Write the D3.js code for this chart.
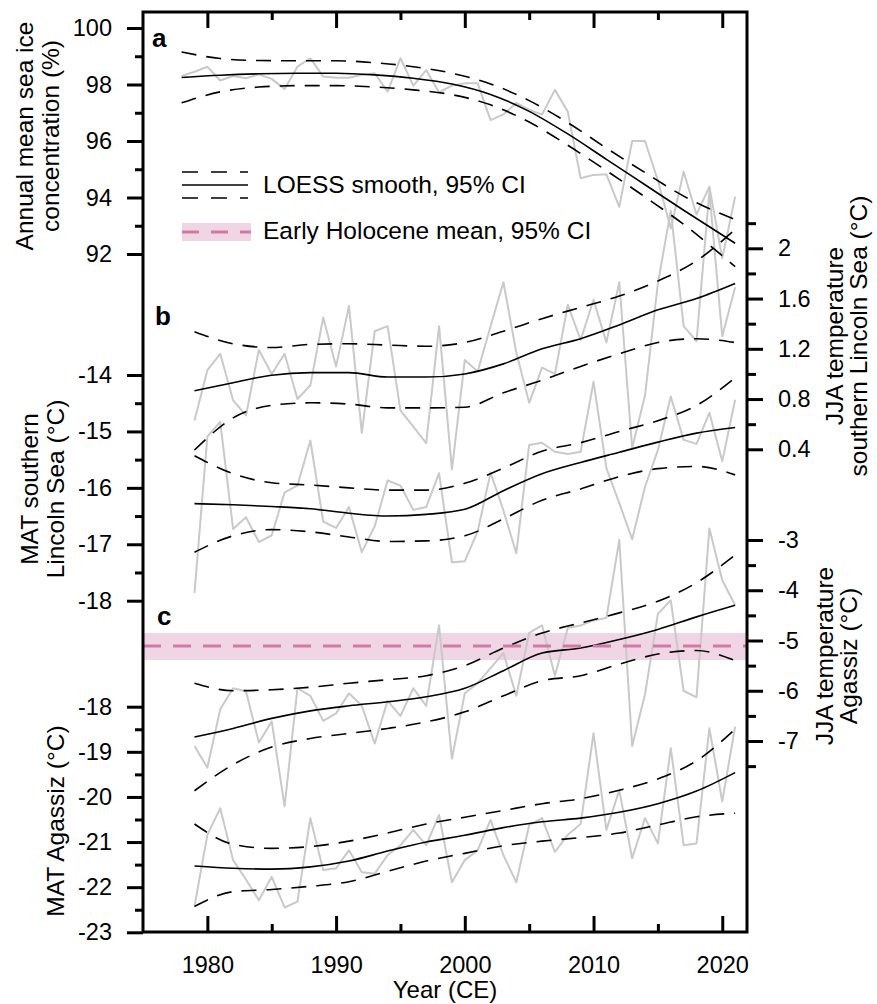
<!DOCTYPE html>
<html><head><meta charset="utf-8">
<script src="https://cdn.jsdelivr.net/npm/d3@7"></script>
<style>
body{margin:0;background:#fff;}
text{font-family:"Liberation Sans",Arial,Helvetica,sans-serif;fill:#000;}
</style></head>
<body><svg id="c" width="877" height="1004"></svg>
<script>
// ---------- DATA ----------
const yearsA = d3.range(1978, 2022);           // sea ice years
const yearsBC = d3.range(1979, 2022);          // temperature years
const seaIce = [98.30,98.45,98.63,98.14,98.30,98.22,98.36,98.20,97.84,98.63,98.93,98.28,98.24,98.24,98.34,98.40,97.75,98.93,97.96,98.51,97.72,97.96,98.04,98.04,96.74,96.94,97.35,97.10,96.94,97.81,97.04,94.68,94.80,94.82,93.67,96.00,96.00,94.60,92.90,94.91,93.40,94.38,91.85,94.03];
const jjaLincoln = [0.63,1.03,1.16,0.79,0.67,1.19,1.00,1.16,0.80,0.91,1.45,1.06,1.54,0.53,1.34,1.38,0.71,0.58,0.45,1.38,0.24,1.11,1.02,1.38,1.73,1.17,0.77,1.05,1.00,1.55,1.27,1.59,1.25,1.73,0.41,0.83,1.72,2.30,1.38,1.26,2.45,1.30,1.69];
const matLincoln = [-17.86,-15.09,-14.83,-16.73,-16.52,-16.96,-16.84,-16.08,-15.96,-15.16,-16.60,-16.71,-16.34,-17.14,-16.68,-15.87,-15.96,-16.39,-16.34,-15.74,-17.32,-17.30,-16.77,-15.73,-16.40,-17.16,-15.24,-15.20,-15.36,-15.40,-15.36,-14.12,-15.65,-16.27,-16.91,-15.98,-15.33,-14.38,-15.15,-15.22,-14.67,-15.53,-14.44];
const jjaAgassiz = [-7.10,-7.53,-6.37,-5.95,-6.01,-7.03,-6.61,-8.30,-5.95,-6.10,-6.60,-6.45,-6.05,-6.30,-7.05,-6.20,-6.50,-5.95,-6.30,-4.70,-7.35,-6.05,-5.85,-5.55,-5.25,-6.10,-4.85,-4.70,-5.70,-4.75,-4.70,-4.60,-4.55,-3.00,-7.10,-6.07,-4.47,-4.20,-6.00,-6.13,-2.77,-3.80,-4.30];
const matAgassiz = [-22.42,-20.84,-20.25,-21.40,-21.83,-22.29,-21.77,-22.45,-22.32,-20.47,-21.62,-21.58,-21.18,-21.67,-21.70,-21.29,-21.07,-20.73,-21.07,-20.40,-21.89,-21.40,-21.18,-20.51,-21.29,-21.89,-20.62,-20.47,-21.22,-20.84,-20.60,-18.59,-20.73,-19.85,-21.36,-20.47,-21.03,-18.92,-21.07,-21.03,-18.48,-20.10,-18.44];

// LOESS smooth and 95% CI, read at knot years
const knotsA = [1978,1981,1984,1987,1990,1993,1996,1999,2002,2005,2008,2011,2014,2017,2021];
const seaIceFit = [98.25,98.33,98.38,98.40,98.40,98.34,98.22,98.02,97.65,97.05,96.25,95.35,94.45,93.55,92.38];
const seaIceHi  = [99.15,98.92,98.85,98.84,98.84,98.77,98.63,98.40,98.02,97.43,96.65,95.75,94.88,94.05,93.22];
const seaIceLo  = [97.35,97.74,97.91,97.96,97.96,97.91,97.81,97.64,97.28,96.67,95.85,94.95,94.02,93.05,91.55];

const knotsBC = [1979,1982,1985,1988,1991,1994,1997,2000,2003,2006,2009,2012,2015,2018,2021];
const jjaLincolnFit = [0.866,0.93,0.99,1.01,1.01,0.975,0.975,1.00,1.08,1.20,1.28,1.39,1.51,1.60,1.72];
const jjaLincolnHi  = [1.336,1.24,1.21,1.235,1.24,1.23,1.22,1.25,1.34,1.44,1.53,1.62,1.74,1.90,2.15];
const jjaLincolnLo  = [0.394,0.65,0.75,0.77,0.76,0.73,0.73,0.735,0.85,0.95,1.06,1.16,1.25,1.28,1.25];
const matLincolnFit = [-16.28,-16.30,-16.33,-16.37,-16.45,-16.50,-16.47,-16.38,-16.05,-15.75,-15.55,-15.37,-15.19,-15.03,-14.93];
const matLincolnHi  = [-15.43,-15.75,-15.91,-15.95,-16.00,-16.04,-16.04,-15.92,-15.65,-15.35,-15.20,-15.00,-14.81,-14.54,-14.05];
const matLincolnLo  = [-17.14,-16.85,-16.74,-16.78,-16.87,-16.95,-16.94,-16.85,-16.55,-16.22,-16.02,-15.80,-15.66,-15.62,-15.77];
const jjaAgassizFit = [-6.92,-6.75,-6.55,-6.40,-6.30,-6.22,-6.12,-5.95,-5.60,-5.25,-5.15,-4.98,-4.78,-4.53,-4.30];
const jjaAgassizHi  = [-5.85,-6.00,-5.98,-5.93,-5.85,-5.78,-5.70,-5.50,-5.15,-4.85,-4.65,-4.45,-4.22,-3.85,-3.30];
const jjaAgassizLo  = [-7.99,-7.47,-7.12,-6.95,-6.85,-6.75,-6.62,-6.42,-6.10,-5.80,-5.70,-5.47,-5.27,-5.20,-5.40];
const matAgassizFit = [-21.53,-21.58,-21.60,-21.55,-21.42,-21.20,-21.00,-20.85,-20.68,-20.55,-20.47,-20.34,-20.15,-19.87,-19.46];
const matAgassizHi  = [-20.60,-21.05,-21.14,-21.10,-20.98,-20.80,-20.60,-20.45,-20.30,-20.15,-20.04,-19.85,-19.60,-19.20,-18.50];
const matAgassizLo  = [-22.43,-22.10,-22.05,-21.98,-21.88,-21.65,-21.42,-21.25,-21.08,-20.98,-20.90,-20.80,-20.62,-20.44,-20.36];

// Early Holocene mean JJA Agassiz with 95% CI
const ehMean = -5.11, ehHi = -4.85, ehLo = -5.39;

// tick values
const xMajor = [1980,1990,2000,2010,2020], xMinor = [1985,1995,2005,2015];
const aMajor = [92,94,96,98,100], aMinor = [93,95,97,99];
const bLMajor = [-18,-17,-16,-15,-14], bLMinor = [-17.5,-16.5,-15.5,-14.5];
const bRMajor = [0.4,0.8,1.2,1.6,2], bRMinor = [0.6,1.0,1.4,1.8,2.2];
const cLMajor = [-23,-22,-21,-20,-19,-18], cLMinor = [-22.5,-21.5,-20.5,-19.5,-18.5];
const cRMajor = [-7,-6,-5,-4,-3], cRMinor = [-7.5,-6.5,-5.5,-4.5,-3.5];

// ---------- DRAW ----------
const svg = d3.select("#c");
svg.append("rect").attr("width",877).attr("height",1004).attr("fill","#fff");

const L=143, R=747, T=12, B=932;
const x = d3.scaleLinear().domain([1975,2022]).range([143,748]);
const yA  = d3.scaleLinear().domain([92,100]).range([254,28]);
const yBL = d3.scaleLinear().domain([-18,-14]).range([600.7,375]);
const yBR = d3.scaleLinear().domain([0.4,2]).range([449.3,248.3]);
const yCL = d3.scaleLinear().domain([-23,-18]).range([932.3,706.7]);
const yCR = d3.scaleLinear().domain([-7,-3]).range([741,540]);

// pink band
svg.append("rect").attr("x",L).attr("width",R-L)
  .attr("y",yCR(ehHi)).attr("height",yCR(ehLo)-yCR(ehHi)).attr("fill","#f0d5e4");

const GRAY="#c9c9c9";
function raw(years, vals, y){
  svg.append("path").datum(years.map((d,i)=>[d,vals[i]]))
    .attr("d", d3.line().x(d=>x(d[0])).y(d=>y(d[1])))
    .attr("fill","none").attr("stroke",GRAY).attr("stroke-width",2).attr("stroke-linejoin","round");
}
function smooth(years, vals, y, dashed){
  svg.append("path").datum(years.map((d,i)=>[d,vals[i]]))
    .attr("d", d3.line().curve(d3.curveMonotoneX).x(d=>x(d[0])).y(d=>y(d[1])))
    .attr("fill","none").attr("stroke","#000").attr("stroke-width",1.6)
    .attr("stroke-dasharray", dashed ? "15,10" : null);
}
raw(yearsA, seaIce, yA);
raw(yearsBC, jjaLincoln, yBR);
raw(yearsBC, matLincoln, yBL);
raw(yearsBC, jjaAgassiz, yCR);
raw(yearsBC, matAgassiz, yCL);

[[knotsA,seaIceFit,seaIceHi,seaIceLo,yA],
 [knotsBC,jjaLincolnFit,jjaLincolnHi,jjaLincolnLo,yBR],
 [knotsBC,matLincolnFit,matLincolnHi,matLincolnLo,yBL],
 [knotsBC,jjaAgassizFit,jjaAgassizHi,jjaAgassizLo,yCR],
 [knotsBC,matAgassizFit,matAgassizHi,matAgassizLo,yCL]].forEach(s=>{
  smooth(s[0],s[1],s[4],false);
  smooth(s[0],s[2],s[4],true);
  smooth(s[0],s[3],s[4],true);
});

// Early Holocene mean line
svg.append("line").attr("x1",L).attr("x2",R).attr("y1",yCR(ehMean)).attr("y2",yCR(ehMean))
  .attr("stroke","#d27aa6").attr("stroke-width",3).attr("stroke-dasharray","18,12");

// box
svg.append("rect").attr("x",L).attr("y",T).attr("width",R-L).attr("height",B-T)
  .attr("fill","none").attr("stroke","#000").attr("stroke-width",3);

// axes
function style(g, fs){
  g.select(".domain").remove();
  g.selectAll(".tick line").attr("stroke","#000").attr("stroke-width",3);
  g.selectAll("text").attr("font-size",fs).attr("font-family",'"Liberation Sans",Arial,sans-serif').attr("fill","#000");
  g.attr("font-size",null).attr("font-family",null);
}
const FS = 23.5;
svg.append("g").attr("transform",`translate(0,${B})`)
  .call(d3.axisBottom(x).tickValues(xMajor).tickSize(-16).tickPadding(24).tickFormat(d3.format("d")))
  .call(g=>style(g,FS));
svg.append("g").attr("transform",`translate(0,${B})`)
  .call(d3.axisBottom(x).tickValues(xMinor).tickSize(-8).tickFormat("")).call(g=>style(g,FS));
svg.append("g").attr("transform",`translate(0,${T})`)
  .call(d3.axisTop(x).tickValues(xMajor).tickSize(-16).tickFormat("")).call(g=>style(g,FS));
svg.append("g").attr("transform",`translate(0,${T})`)
  .call(d3.axisTop(x).tickValues(xMinor).tickSize(-8).tickFormat("")).call(g=>style(g,FS));

function leftAxis(y, major, minor){
  svg.append("g").attr("transform",`translate(${L},0)`)
    .call(d3.axisLeft(y).tickValues(major).tickSize(16).tickPadding(15).tickFormat(d=>String(d)))
    .call(g=>style(g,FS));
  svg.append("g").attr("transform",`translate(${L},0)`)
    .call(d3.axisLeft(y).tickValues(minor).tickSize(8).tickFormat("")).call(g=>style(g,FS));
}
function rightAxis(y, major, minor){
  svg.append("g").attr("transform",`translate(${R},0)`)
    .call(d3.axisRight(y).tickValues(major).tickSize(16).tickPadding(15).tickFormat(d=>String(d)))
    .call(g=>style(g,FS));
  svg.append("g").attr("transform",`translate(${R},0)`)
    .call(d3.axisRight(y).tickValues(minor).tickSize(9).tickFormat("")).call(g=>style(g,FS));
}
leftAxis(yA, aMajor, aMinor);
leftAxis(yBL, bLMajor, bLMinor);
leftAxis(yCL, cLMajor, cLMinor);
rightAxis(yBR, bRMajor, bRMinor);
rightAxis(yCR, cRMajor, cRMinor);

// titles
function vtext(str, bx, cy, fs){
  svg.append("text").attr("transform",`translate(${bx},${cy}) rotate(-90)`)
    .attr("text-anchor","middle").attr("font-size",fs).text(str);
}
const TF = 24.5;
vtext("Annual mean sea ice", 33, 136, TF);
vtext("concentration (%)", 59, 136, TF);
vtext("MAT southern", 38, 489, TF);
vtext("Lincoln Sea (°C)", 64, 489, TF);
vtext("MAT Agassiz (°C)", 64, 821, TF);
vtext("JJA temperature", 842.5, 336, TF);
vtext("southern Lincoln Sea (°C)", 867, 336, TF);
vtext("JJA temperature", 832.5, 656, TF);
vtext("Agassiz (°C)", 857, 656, TF);

svg.append("text").attr("x",(L+R)/2).attr("y",998).attr("text-anchor","middle")
  .attr("font-size",24).text("Year (CE)");

// panel letters
[["a",152,47],["b",155,325],["c",157,625]].forEach(p=>{
  svg.append("text").attr("x",p[1]).attr("y",p[2]).attr("font-size",26)
    .attr("font-weight","bold").text(p[0]);
});

// legend
const lg = svg.append("g");
lg.append("line").attr("x1",182).attr("x2",248).attr("y1",172).attr("y2",172)
  .attr("stroke","#000").attr("stroke-width",1.6).attr("stroke-dasharray","16,13");
lg.append("line").attr("x1",182).attr("x2",248).attr("y1",185).attr("y2",185)
  .attr("stroke","#000").attr("stroke-width",1.6);
lg.append("line").attr("x1",182).attr("x2",248).attr("y1",198).attr("y2",198)
  .attr("stroke","#000").attr("stroke-width",1.6).attr("stroke-dasharray","16,13");
lg.append("text").attr("x",263).attr("y",193).attr("font-size",24.5).text("LOESS smooth, 95% CI");
lg.append("rect").attr("x",182).attr("y",223).attr("width",69).attr("height",18).attr("fill","#f0d5e4");
lg.append("line").attr("x1",182).attr("x2",251).attr("y1",232).attr("y2",232)
  .attr("stroke","#d27aa6").attr("stroke-width",3).attr("stroke-dasharray","17,12");
lg.append("text").attr("x",263).attr("y",239).attr("font-size",24.5).text("Early Holocene mean, 95% CI");
</script>
</body></html>
